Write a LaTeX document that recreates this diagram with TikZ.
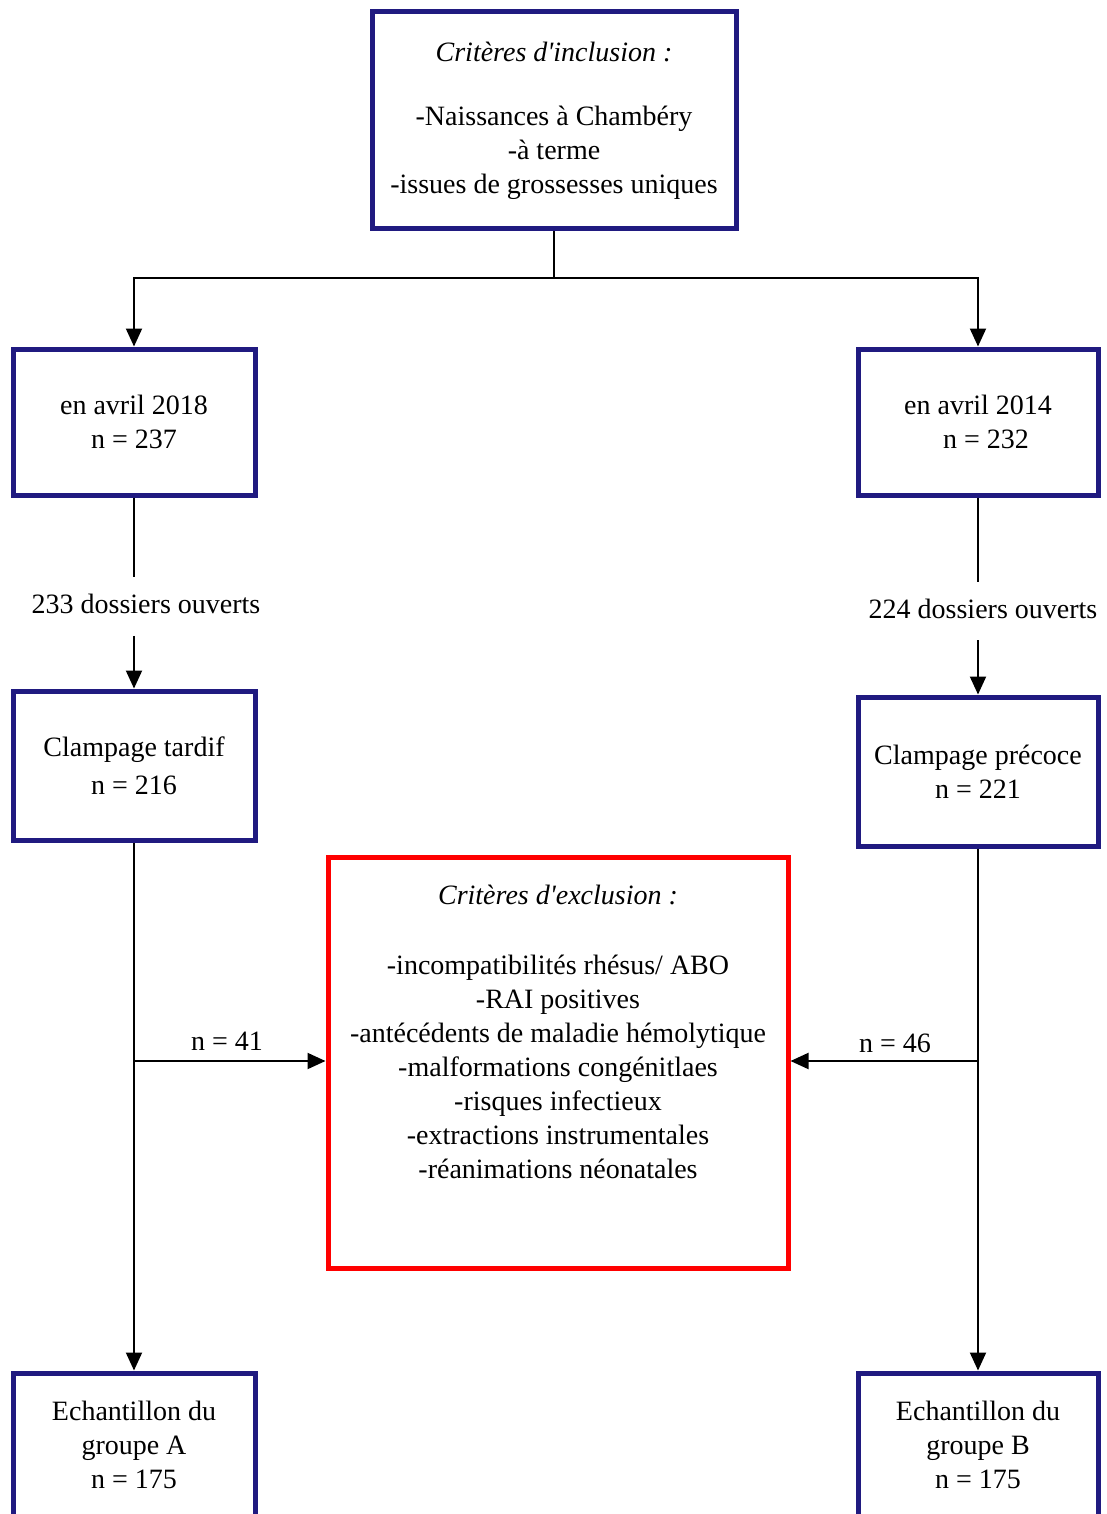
\documentclass[tikz,border=0pt]{standalone}
\usepackage{fontspec}
\setmainfont{Liberation Serif}[Ligatures=TeXOff]
\usetikzlibrary{arrows.meta}
\definecolor{navy}{RGB}{32,26,128}
\begin{document}
\begin{tikzpicture}[x=0.5pt,y=-0.5pt,
 font=\fontsize{14pt}{17pt}\selectfont,
 bluebox/.style={draw=navy, line width=2.5pt, inner sep=0pt, align=center},
 redbox/.style={draw=red, line width=2.5pt, inner sep=0pt},
 txt/.style={align=center, inner sep=0pt},
 conn/.style={line width=1pt},
 arr/.style={conn, -{Triangle[length=9pt,width=8pt]}},
 flowlbl/.style={inner xsep=2pt, inner ysep=8pt, text height=10pt, text depth=3pt},
 edgelbl/.style={inner sep=1pt}]
\useasboundingbox (0,0) rectangle (1107,1514);

% boxes
\node[bluebox, minimum width=182pt, minimum height=108.5pt] (top) at (554,120.5)
 {\textit{Critères d'inclusion :}\\[15pt] -Naissances à Chambéry\\ -à terme\\ -issues de grossesses uniques};
\node[bluebox, minimum width=121pt, minimum height=73pt] (b1L) at (134,422) {en avril 2018\\ n = 237};
\node[bluebox, minimum width=120pt, minimum height=73pt] (b1R) at (978,422) {en avril 2014\\ \hspace*{8pt}n = 232};
\node[bluebox, minimum width=121pt, minimum height=74.5pt] (b2L) at (134,765.5) {Clampage tardif\\[2pt] n = 216};
\node[bluebox, minimum width=120pt, minimum height=74.5pt] (b2R) at (978,771.5) {Clampage précoce\\ n = 221};
\node[redbox, minimum width=230pt, minimum height=205.5pt] (red) at (558,1062.5) {};
\node[txt] (redtxt) at (558,1032)
 {\textit{Critères d'exclusion :}\\[18pt]
  -incompatibilités rhésus/ ABO\\ -RAI positives\\ -antécédents de maladie hémolytique\\
  -malformations congénitlaes\\ -risques infectieux\\ -extractions instrumentales\\ -réanimations néonatales};
\node[bluebox, minimum width=121pt, minimum height=93.5pt] (b3L) at (134,1466.5) {};
\node[txt] (t3L) at (134,1445) {Echantillon du\\ groupe A\\ n = 175};
\node[bluebox, minimum width=120pt, minimum height=93.5pt] (b3R) at (978,1466.5) {};
\node[txt] (t3R) at (978,1445) {Echantillon du\\ groupe B\\ n = 175};

% flow labels
\node[flowlbl] (l1) at (146,606.5) {233 dossiers ouverts};
\node[flowlbl] (l2) at (983,611) {224 dossiers ouverts};
\node[edgelbl] (nL) at (227,1041) {n = 41};
\node[edgelbl] (nR) at (895,1043) {n = 46};

% connectors
\coordinate (split) at (554,278);
\draw[conn] (top.south) -- (split);
\draw[arr] (split) -| (b1L.north);
\draw[arr] (split) -| (b1R.north);
\draw[conn] (b1L.south) -- (b1L.south |- l1.north);
\draw[arr] (b1L.south |- l1.south) -- (b2L.north);
\draw[conn] (b1R.south) -- (b1R.south |- l2.north);
\draw[arr] (b1R.south |- l2.south) -- (b2R.north);
\draw[arr] (b2L.south) -- (b3L.north);
\draw[arr] (b2R.south) -- (b3R.north);
\coordinate (jL) at (134,1061);
\coordinate (jR) at (978,1061);
\draw[arr] (jL) -- (red.west |- jL);
\draw[arr] (jR) -- (red.east |- jR);
\end{tikzpicture}
\end{document}
